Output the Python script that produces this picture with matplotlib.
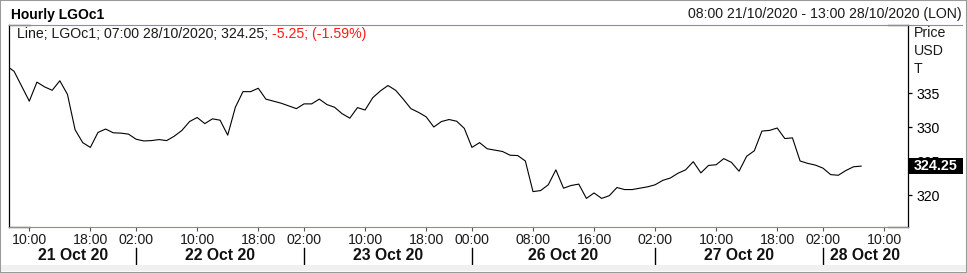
import pandas as pd
import matplotlib
matplotlib.use("Agg")
import matplotlib.pyplot as plt
from matplotlib.lines import Line2D
from matplotlib.patches import Rectangle
from matplotlib.transforms import blended_transform_factory

plt.rcParams["font.family"] = ["Liberation Sans", "DejaVu Sans"]

# sessoes por dia (hora de Londres): primeira e ultima barra horaria do eixo
dias = ["2020-10-21", "2020-10-22", "2020-10-23", "2020-10-26", "2020-10-27", "2020-10-28"]
hora_inicio = [7, 2, 2, 0, 2, 2]
hora_fim = [23, 23, 23, 23, 23, 13]
rotulos_dia = ["21 Oct 20", "22 Oct 20", "23 Oct 20", "26 Oct 20", "27 Oct 20", "28 Oct 20"]

# fechamento horario LGOc1 (a partir de 07:00 21/10)
precos = [
    339.0, 338.2, 336.0, 333.8, 336.6, 335.9, 335.4, 336.8, 334.8, 329.6,
    327.7, 327.0, 329.2, 329.7, 329.15, 329.1, 328.95, 328.2, 327.95, 328.0,
    328.15, 328.0, 328.65, 329.5, 330.8, 331.4, 330.5, 331.2, 331.0, 328.8,
    332.9, 335.2, 335.2, 335.7, 334.1, 333.8, 333.5, 333.1, 332.7, 333.4,
    333.4, 334.1, 333.3, 332.9, 331.95, 331.3, 332.85, 332.5, 334.3, 335.3,
    336.1, 335.4, 334.1, 332.7, 332.15, 331.5, 330.0, 330.8, 331.1, 330.85,
    329.8, 327.0, 327.7, 326.8, 326.6, 326.4, 325.85, 325.8, 325.0, 320.5,
    320.65, 321.5, 323.7, 321.0, 321.4, 321.6, 319.5, 320.3, 319.5, 319.9,
    321.1, 320.8, 320.8, 321.0, 321.2, 321.5, 322.15, 322.5, 323.2, 323.7,
    324.9, 323.25, 324.35, 324.45, 325.35, 324.8, 323.5, 325.7, 326.5, 329.4,
    329.5, 329.85, 328.3, 328.4, 325.0, 324.65, 324.4, 323.95, 323.0, 322.9,
    323.6, 324.15, 324.25,
]

ticks_x = [
    "2020-10-21 10:00", "2020-10-21 18:00", "2020-10-22 02:00", "2020-10-22 10:00",
    "2020-10-22 18:00", "2020-10-23 02:00", "2020-10-23 10:00", "2020-10-23 18:00",
    "2020-10-26 00:00", "2020-10-26 08:00", "2020-10-26 16:00", "2020-10-27 02:00",
    "2020-10-27 10:00", "2020-10-27 18:00", "2020-10-28 02:00", "2020-10-28 10:00",
]
ticks_y = [320, 325, 330, 335]

barras = []
inicio_dia = []
for d, a, b in zip(dias, hora_inicio, hora_fim):
    inicio_dia.append(len(barras))
    for h in range(a, b + 1):
        barras.append(pd.Timestamp(f"{d} {h:02d}:00"))
pos = {t: k for k, t in enumerate(barras)}

W, H = 967, 273
FS = 10.2
fig = plt.figure(figsize=(W / 100, H / 100), dpi=100)
fig.patch.set_facecolor("white")

x0, x1, yt, yb = 9.3, 907.7, 25, 227.3
ax = fig.add_axes([x0 / W, 1 - yb / H, (x1 - x0) / W, (yb - yt) / H])

ax.plot(range(len(precos)), precos, color="black", lw=0.8)

ax.set_xlim(0.38, len(barras) - 1 + 0.1)
ax.set_ylim(315.25, 345.0)

# eixos
for lado in ["left", "right"]:
    ax.spines[lado].set_color("black")
    ax.spines[lado].set_linewidth(0.9)
ax.spines["top"].set_visible(False)
ax.spines["bottom"].set_color("#8c8c9c")
ax.spines["bottom"].set_linewidth(0.8)

tp = [pos[pd.Timestamp(t)] for t in ticks_x]
ax.set_xticks(tp)
ax.set_xticklabels([pd.Timestamp(t).strftime("%H:%M") for t in ticks_x])
ax.tick_params(axis="x", direction="out", length=3, width=0.8, color="#555555",
               pad=1, labelsize=FS, labelcolor="#1a1a1a")

ax.yaxis.tick_right()
ax.set_yticks(ticks_y)
ax.set_yticklabels([str(v) for v in ticks_y])
ax.tick_params(axis="y", direction="out", length=3, width=0.9, color="black",
               pad=3, labelsize=FS)

# cantos pretos
for xa, xb in [(0, 0.023), (0.978, 1)]:
    for yy in [0, 1]:
        ax.add_line(Line2D([xa, xb], [yy, yy], transform=ax.transAxes, color="black",
                           lw=0.9, clip_on=False))

# linha do cabecalho
fig.add_artist(Line2D([x0 / W, 962 / W], [1 - yt / H] * 2, color="#8c8c9c", lw=0.8))

# divisores e rotulos de dia
trans = blended_transform_factory(ax.transData, fig.transFigure)
lim_esq, lim_dir = ax.get_xlim()
bordas = [lim_esq] + inicio_dia[1:] + [lim_dir]
for k in inicio_dia[1:]:
    ax.add_line(Line2D([k, k], [1 - 248.3 / H, 1 - 266.7 / H], transform=trans,
                       color="black", lw=1.0, clip_on=False))
for rot, a, b in zip(rotulos_dia, bordas[:-1], bordas[1:]):
    ax.text((a + b) / 2, 1 - 256 / H, rot, transform=trans, ha="center", va="center",
            fontsize=11.3, fontweight="bold", color="#111111")

# legenda da serie
t1 = ax.text(0.0089, 0.9555, "Line; LGOc1; 07:00 28/10/2020; 324.25; ",
             transform=ax.transAxes, va="center", ha="left", fontsize=FS, color="#1a1a1a")
ax.annotate("-5.25; (-1.59%)", xy=(1, 0.5), xycoords=t1, va="center", ha="left",
            fontsize=FS, color="#ff1a1a")

# caixa do ultimo preco
ultimo = precos[-1]
tr_y = blended_transform_factory(ax.transAxes, ax.transData)
caixa_w = 54 / (x1 - x0)
caixa_h = 15.6 / ((yb - yt) / (345.0 - 315.25))
ax.add_patch(Rectangle((1.0015, ultimo - caixa_h / 2), caixa_w, caixa_h, transform=tr_y,
                       facecolor="black", edgecolor="none", clip_on=False, zorder=5))
ax.text(1.0015 + caixa_w / 2, ultimo, f"{ultimo:.2f}", transform=tr_y, ha="center",
        va="center", color="white", fontsize=10.3, fontweight="bold", zorder=6)

# textos do cabecalho
fig.text(11 / W, 1 - 14.5 / H, "Hourly LGOc1", ha="left", va="center",
         fontsize=10, fontweight="bold", color="black")
fig.text(962 / W, 1 - 14 / H, "08:00 21/10/2020 - 13:00 28/10/2020 (LON)",
         ha="right", va="center", fontsize=FS, color="#1a1a1a")
for txt, yy in [("Price", 33), ("USD", 51), ("T", 69)]:
    fig.text(914 / W, 1 - yy / H, txt, ha="left", va="center", fontsize=FS, color="#1a1a1a")

# faixa inferior e moldura
fig.add_artist(Rectangle((0, 1 - 270.7 / H), 1, 5.7 / H, transform=fig.transFigure,
                         facecolor="#f0f0f0", edgecolor="none"))
fig.add_artist(Rectangle((0, 0), 1, 1, transform=fig.transFigure, facecolor="none",
                         edgecolor="#9a9a9a", lw=1.5))

fig.savefig("out.png", dpi=100)
